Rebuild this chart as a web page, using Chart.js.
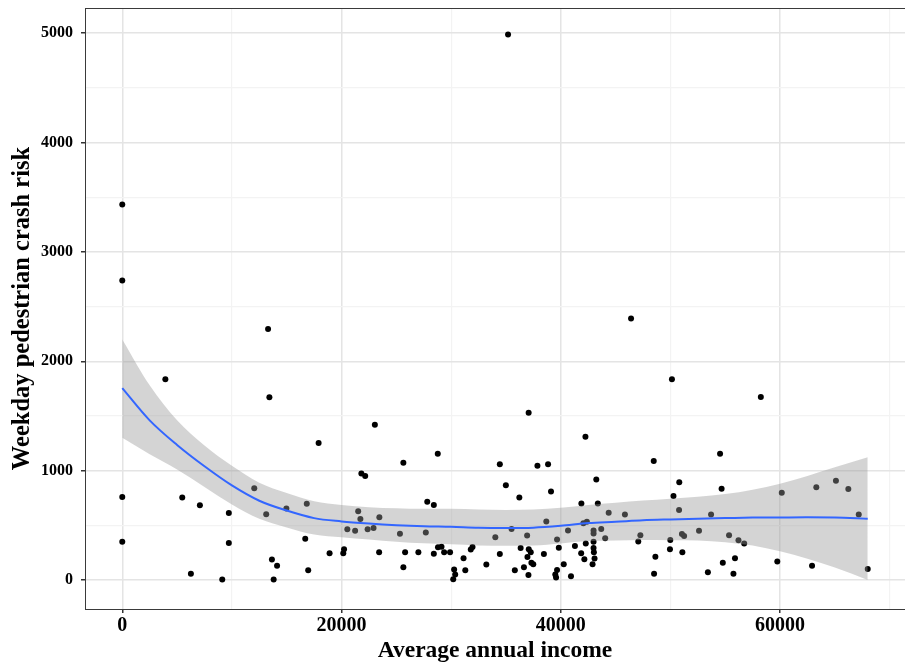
<!DOCTYPE html>
<html>
<head>
<meta charset="utf-8">
<script src="https://cdn.jsdelivr.net/npm/chart.js@4.4.0/dist/chart.umd.min.js"></script>
<style>
  html, body { margin: 0; padding: 0; background: #fff; }
  #wrap { width: 905px; height: 667px; }
</style>
</head>
<body>
<div id="wrap"><canvas id="chart" width="905" height="667"></canvas></div>
<script>
// pontos observados (renda média anual x risco de atropelamento)
const incomeX = [
  0, 0, 0, 0, 13300, 3930, 13420, 17910, 12040, 5470, 7080, 16830, 9720, 13130, 14970, 9720,
  16690, 18910, 13650, 14120, 16960, 6260, 9120, 13810, 23040, 28780, 25640, 21810, 22160, 27820,
  28420, 21520, 23450, 21720, 20530, 21240, 22380, 22920, 25330, 27690, 20230, 20160, 23430, 25800,
  25640, 27010, 28420, 28800, 29120, 29360, 29900, 31130, 31790, 31950, 30270, 30370, 30190, 31290,
  33210, 34440, 34030, 35510, 34440, 34990, 36220, 37070, 37870, 38840, 39110, 38680, 36930, 35810,
  36340, 37080, 37260, 36960, 37320, 37490, 36640, 37050, 38460, 39660, 39820, 40270, 39660, 39500,
  39570, 40930, 41290, 40660, 41860, 42150, 42280, 42990, 42990, 43020, 43080, 42900, 42990, 42990,
  43690, 44050, 42380, 42060, 41880, 43380, 43240, 42250, 44370, 45850, 46410, 47260, 47070, 48480,
  48630, 48510, 50140, 50810, 50280, 50790, 49990, 49960, 51050, 51250, 51090, 52610, 53710, 53420,
  54530, 54670, 54780, 55350, 56210, 56730, 55890, 55750, 58250, 60160, 59750, 63310, 62920, 65100,
  66230, 67180, 68000, 35190
];
const riskY = [
  3434, 2738, 759, 350, 2294, 1836, 1672, 1253, 839, 755, 684, 698, 612, 601, 654, 338,
  377, 245, 188, 131, 89, 57, 5, 5, 1420, 1155, 1073, 975, 952, 715,
  686, 629, 575, 558, 465, 450, 464, 476, 422, 434, 281, 245, 254, 254,
  117, 254, 241, 300, 305, 254, 254, 200, 279, 301, 96, 50, 6, 89,
  142, 238, 390, 467, 1058, 866, 755, 1530, 1044, 1058, 810, 535, 407, 89,
  293, 282, 255, 211, 157, 144, 117, 46, 238, 370, 296, 144, 91, 50,
  24, 34, 310, 453, 245, 190, 335, 350, 293, 254, 197, 144, 453, 425,
  467, 381, 533, 519, 699, 699, 920, 1309, 616, 600, 2390, 409, 352, 1088,
  212, 57, 1836, 894, 768, 640, 366, 282, 421, 402, 254, 450, 600, 71,
  1155, 834, 157, 409, 364, 335, 199, 57, 1673, 798, 169, 849, 130, 908,
  832, 600, 101, 4988
];

// curva suavizada (loess) e intervalo de confiança
const smoothIncome = [0, 2500, 5000, 7500, 10000, 12500, 15000, 17500, 20000, 22500, 25000, 27500, 30000, 32500,
  35000, 37500, 40000, 42500, 45000, 47500, 50000, 52500, 55000, 57500, 60000, 62500, 65000, 68000];
const smoothRisk = [1755, 1460, 1235, 1040, 865, 725, 635, 566, 536, 516, 501, 491, 486, 478,
  476, 479, 496, 521, 533, 546, 554, 561, 566, 571, 572, 573, 572, 561];
const smoothUpper = [2200, 1780, 1460, 1230, 1045, 890, 795, 720, 686, 666, 656, 651, 651, 644,
  641, 644, 661, 686, 706, 726, 744, 761, 786, 826, 881, 951, 1030, 1122];
const smoothLower = [1300, 1150, 1010, 850, 690, 560, 481, 416, 391, 371, 351, 336, 326, 316,
  314, 316, 334, 356, 361, 366, 364, 361, 346, 316, 263, 195, 114, 0];

// linhas de grade (maiores e menores) e rótulos
const xGrid = [0, 10000, 20000, 30000, 40000, 50000, 60000, 70000];
const xTicksMajor = [0, 20000, 40000, 60000];
const yGrid = [0, 500, 1000, 1500, 2000, 2500, 3000, 3500, 4000, 4500, 5000];
const yTicksMajor = [0, 1000, 2000, 3000, 4000, 5000];

function pares(xs, ys) {
  return xs.map((x, i) => ({ x: x, y: ys[i] }));
}

const serif = "'Liberation Serif', 'Times New Roman', serif";

// borda do painel (theme_bw)
const bordaPainel = {
  id: 'bordaPainel',
  afterDatasetsDraw(chart) {
    const { ctx, chartArea } = chart;
    ctx.save();
    ctx.strokeStyle = '#3a3a3a';
    ctx.lineWidth = 1;
    ctx.strokeRect(chartArea.left + 0.5, chartArea.top + 0.5, chartArea.right - chartArea.left, chartArea.bottom - chartArea.top);
    ctx.restore();
  }
};

function isMajor(c, lista) {
  return c.tick && lista.includes(c.tick.value);
}

function semPadding(axis) {
  axis.paddingTop = 0;
  axis.paddingBottom = 0;
  axis.paddingLeft = 0;
  axis.paddingRight = 0;
}

const ctx = document.getElementById('chart').getContext('2d');

new Chart(ctx, {
  type: 'scatter',
  data: {
    datasets: [
      {
        label: 'loess',
        data: pares(smoothIncome, smoothRisk),
        showLine: true,
        borderColor: '#3366FF',
        borderWidth: 2,
        pointRadius: 0,
        fill: false,
        cubicInterpolationMode: 'monotone'
      },
      {
        label: 'upper',
        data: pares(smoothIncome, smoothUpper),
        showLine: true,
        borderWidth: 0,
        borderColor: 'rgba(0,0,0,0)',
        pointRadius: 0,
        backgroundColor: 'rgba(153,153,153,0.42)',
        fill: '+1',
        cubicInterpolationMode: 'monotone'
      },
      {
        label: 'lower',
        data: pares(smoothIncome, smoothLower),
        showLine: true,
        borderWidth: 0,
        borderColor: 'rgba(0,0,0,0)',
        pointRadius: 0,
        fill: false,
        cubicInterpolationMode: 'monotone'
      },
      {
        label: 'pontos',
        data: pares(incomeX, riskY),
        pointRadius: 3,
        pointBackgroundColor: '#000',
        pointBorderColor: '#000',
        pointBorderWidth: 0
      }
    ]
  },
  options: {
    responsive: false,
    animation: false,
    events: [],
    layout: { autoPadding: false, padding: { top: 8, right: 0, left: 0, bottom: 0 } },
    plugins: {
      legend: { display: false },
      tooltip: { enabled: false }
    },
    scales: {
      x: {
        type: 'linear',
        min: -3400,
        max: 71400,
        afterBuildTicks: (axis) => { axis.ticks = xGrid.map(v => ({ value: v })); },
        afterFit: (axis) => { axis.height = 58; semPadding(axis); },
        border: { color: '#3a3a3a', width: 1 },
        grid: {
          color: (c) => (isMajor(c, xTicksMajor) ? '#e4e4e4' : '#f3f3f3'),
          lineWidth: (c) => (isMajor(c, xTicksMajor) ? 1.5 : 1.2),
          tickColor: (c) => (isMajor(c, xTicksMajor) ? '#333' : 'rgba(0,0,0,0)'),
          tickLength: 4
        },
        ticks: {
          autoSkip: false,
          maxRotation: 0,
          padding: 1,
          color: '#000',
          font: { family: serif, size: 20, weight: 'bold' },
          callback: (v) => (xTicksMajor.includes(v) ? String(v) : '')
        },
        title: {
          display: true,
          text: 'Average annual income',
          color: '#000',
          font: { family: serif, size: 23.5, weight: 'bold' },
          padding: { top: 0, bottom: 2 }
        }
      },
      y: {
        min: -265,
        max: 5230,
        afterBuildTicks: (axis) => { axis.ticks = yGrid.map(v => ({ value: v })); },
        afterFit: (axis) => { axis.width = 85; semPadding(axis); },
        border: { color: '#3a3a3a', width: 1 },
        grid: {
          color: (c) => (isMajor(c, yTicksMajor) ? '#e4e4e4' : '#f3f3f3'),
          lineWidth: (c) => (isMajor(c, yTicksMajor) ? 1.5 : 1.2),
          tickColor: (c) => (isMajor(c, yTicksMajor) ? '#333' : 'rgba(0,0,0,0)'),
          tickLength: 4
        },
        ticks: {
          autoSkip: false,
          padding: 8,
          color: '#000',
          font: { family: serif, size: 16, weight: 'bold' },
          callback: (v) => (yTicksMajor.includes(v) ? String(v) : '')
        },
        title: {
          display: true,
          text: 'Weekday pedestrian crash risk',
          color: '#000',
          font: { family: serif, size: 24.5, weight: 'bold' },
          padding: { top: 8, bottom: 0 }
        }
      }
    }
  },
  plugins: [bordaPainel]
});
</script>
</body>
</html>
